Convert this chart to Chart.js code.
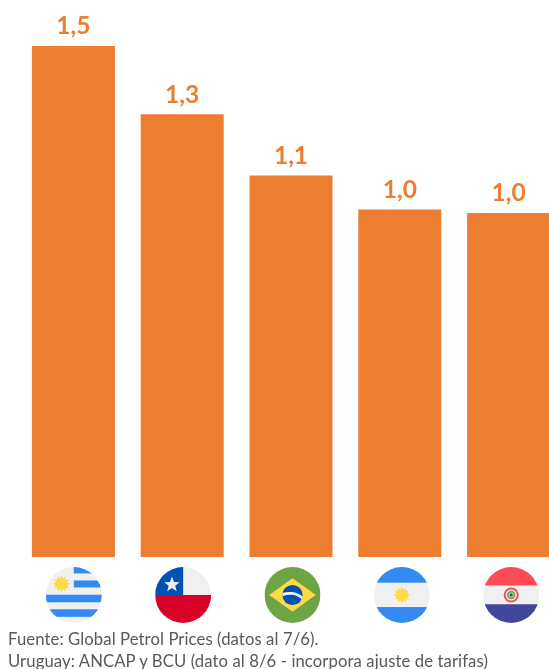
<!DOCTYPE html>
<html lang="es">
<head>
<meta charset="utf-8">
<title>Precios de combustibles</title>
<script src="https://cdn.jsdelivr.net/npm/chart.js@4"></script>
<style>
  html, body { margin: 0; padding: 0; background: #fff; overflow: hidden; width: 549px; height: 669px; }
  #wrap { position: relative; width: 549px; height: 669px; overflow: hidden; }
  canvas { position: absolute; left: 0; top: 0; }
  .note { position: absolute; left: 8px; font: 16.7px Lato, sans-serif; color: #595959; white-space: nowrap; letter-spacing: 0.09px; }
</style>
</head>
<body>
<div id="wrap">
  <canvas id="chart" width="563" height="669"></canvas>
  <div class="note" id="note1" style="top:629px"></div>
  <div class="note" id="note2" style="top:651px"></div>
</div>
<script>
const categories = ["Uruguay", "Chile", "Brasil", "Argentina", "Paraguay"];
const prices = [1.50, 1.30, 1.12, 1.02, 1.01];
const notes = [
  "Fuente: Global Petrol Prices (datos al 7/6).",
  "Uruguay: ANCAP y BCU (dato al 8/6 - incorpora ajuste de tarifas)"
];

const ORANGE = "#ed7d31";
const BLUE = "#338af3";
const PALE = "#f0f0f0";
const YELLOW = "#ffda44";

document.getElementById("note1").textContent = notes[0];
document.getElementById("note2").textContent = notes[1];

// Spiky sun used on the Uruguayan and Argentine flags
function sun(ctx, cx, cy, r) {
  ctx.fillStyle = YELLOW;
  ctx.beginPath();
  const spikes = 12;
  for (let i = 0; i < spikes * 2; i++) {
    const a = i * Math.PI / spikes;
    const d = i % 2 ? r * 0.66 : r;
    ctx.lineTo(cx + d * Math.cos(a), cy + d * Math.sin(a));
  }
  ctx.closePath();
  ctx.fill();
}

function star(ctx, cx, cy, r) {
  ctx.fillStyle = "#f0f0f0";
  ctx.beginPath();
  for (let i = 0; i < 10; i++) {
    const a = -Math.PI / 2 + i * Math.PI / 5;
    const d = i % 2 ? r * 0.42 : r;
    ctx.lineTo(cx + d * Math.cos(a), cy + d * Math.sin(a));
  }
  ctx.closePath();
  ctx.fill();
}

// Each painter draws in a unit square centred on the flag, radius 1
const flagPainters = {
  Uruguay(ctx) {
    ctx.fillStyle = PALE; ctx.fillRect(-1, -1, 2, 2);
    ctx.fillStyle = BLUE;
    ctx.fillRect(0, -1, 1, 0.23);
    ctx.fillRect(0, -0.52, 1, 0.25);
    ctx.fillRect(-1, -0.01, 2, 0.27);
    ctx.fillRect(-1, 0.51, 2, 0.27);
    sun(ctx, -0.44, -0.4, 0.31);
  },
  Chile(ctx) {
    ctx.fillStyle = PALE; ctx.fillRect(-1, -1, 2, 1);
    ctx.fillStyle = "#d80027"; ctx.fillRect(-1, 0, 2, 1);
    ctx.fillStyle = "#0052b4"; ctx.fillRect(-1, -1, 1, 1);
    star(ctx, -0.4, -0.37, 0.29);
  },
  Brasil(ctx) {
    ctx.fillStyle = "#6da544"; ctx.fillRect(-1, -1, 2, 2);
    ctx.fillStyle = YELLOW;
    ctx.beginPath();
    ctx.moveTo(-0.83, 0); ctx.lineTo(0, -0.6); ctx.lineTo(0.83, 0); ctx.lineTo(0, 0.6);
    ctx.closePath(); ctx.fill();
    ctx.fillStyle = "#0052b4";
    ctx.beginPath(); ctx.arc(0, 0, 0.36, 0, Math.PI * 2); ctx.fill();
    ctx.save();
    ctx.beginPath(); ctx.arc(0, 0, 0.36, 0, Math.PI * 2); ctx.clip();
    ctx.strokeStyle = PALE; ctx.lineWidth = 0.1;
    ctx.beginPath(); ctx.arc(-0.1, 0.62, 0.68, -Math.PI * 0.72, -Math.PI * 0.18); ctx.stroke();
    ctx.restore();
  },
  Argentina(ctx) {
    ctx.fillStyle = PALE; ctx.fillRect(-1, -1, 2, 2);
    ctx.fillStyle = BLUE;
    ctx.fillRect(-1, -1, 2, 0.56);
    ctx.fillRect(-1, 0.43, 2, 0.57);
    sun(ctx, 0, 0, 0.3);
  },
  Paraguay(ctx) {
    ctx.fillStyle = PALE; ctx.fillRect(-1, -1, 2, 2);
    ctx.fillStyle = "#ff4b55"; ctx.fillRect(-1, -1, 2, 0.66);
    ctx.fillStyle = "#41479b"; ctx.fillRect(-1, 0.33, 2, 0.67);
    const rings = [[0.27, "#ff4b55"], [0.2, PALE], [0.15, "#6da544"], [0.1, "#a9c8a0"], [0.05, "#41479b"]];
    rings.forEach(([r, c]) => {
      ctx.fillStyle = c;
      ctx.beginPath(); ctx.arc(0, 0, r, 0, Math.PI * 2); ctx.fill();
    });
  }
};

// Puts a round flag under each bar, following the category scale
const flagRow = {
  id: "flagRow",
  afterDatasetsDraw(chart) {
    const { ctx, scales: { x } } = chart;
    categories.forEach((name, i) => {
      const cx = x.getPixelForValue(i) + 0.4 + i * 0.55;
      ctx.save();
      ctx.translate(cx, 595);
      ctx.scale(28, 28);
      ctx.beginPath(); ctx.arc(0, 0, 1, 0, Math.PI * 2); ctx.clip();
      flagPainters[name](ctx);
      ctx.restore();
    });
  }
};

// One-decimal value above each bar, with a decimal comma
const valueLabels = {
  id: "valueLabels",
  afterDatasetsDraw(chart) {
    const { ctx } = chart;
    const bars = chart.getDatasetMeta(0).data;
    ctx.save();
    ctx.font = "bold 24.5px Lato, sans-serif";
    ctx.fillStyle = ORANGE;
    ctx.textAlign = "center";
    ctx.textBaseline = "middle";
    bars.forEach((bar, i) => {
      ctx.fillText(prices[i].toFixed(1).replace(".", ","), bar.x, bar.y - 19.5);
    });
    ctx.restore();
  }
};

new Chart(document.getElementById("chart"), {
  type: "bar",
  data: {
    labels: categories,
    datasets: [{
      data: prices,
      backgroundColor: ORANGE,
      borderWidth: 0,
      categoryPercentage: 1,
      barPercentage: 0.763
    }]
  },
  options: {
    responsive: false,
    animation: false,
    layout: { padding: { left: 19, right: 0, top: 12, bottom: 112 } },
    plugins: { legend: { display: false }, tooltip: { enabled: false }, title: { display: false } },
    scales: {
      x: { display: false },
      y: { display: false, min: 0, max: 1.6 }
    }
  },
  plugins: [flagRow, valueLabels]
});
</script>
</body>
</html>
